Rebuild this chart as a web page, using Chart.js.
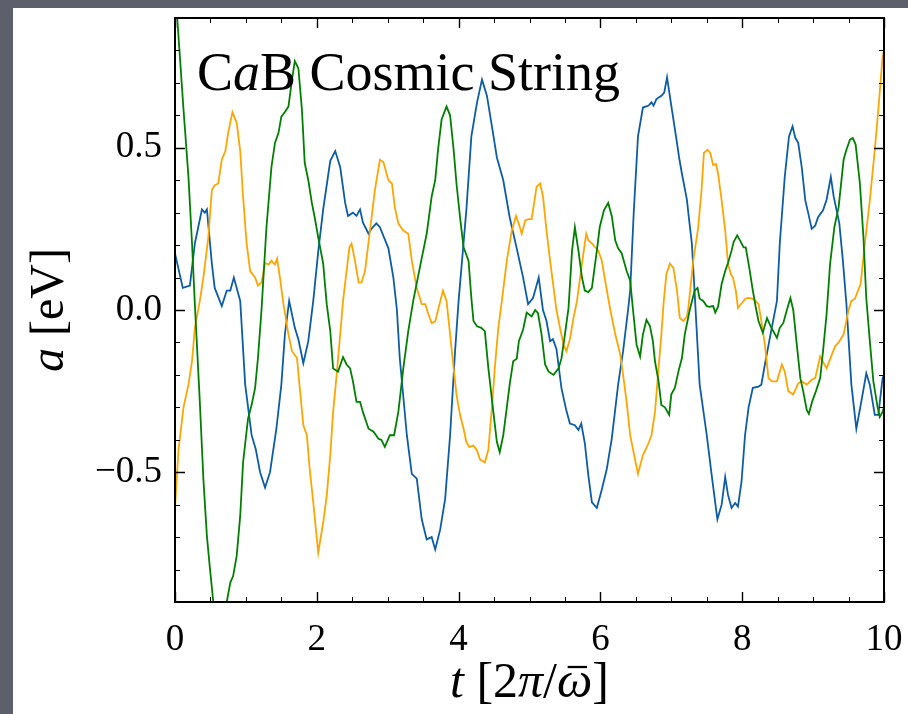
<!DOCTYPE html>
<html>
<head>
<meta charset="utf-8">
<script src="https://cdn.jsdelivr.net/npm/chart.js@4.4.1/dist/chart.umd.min.js"></script>
<style>
    html, body { margin: 0; padding: 0; }
    body { width: 908px; height: 714px; background: #5d606c; position: relative; overflow: hidden; }
    #paper { position: absolute; left: 13px; top: 8px; right: 0; bottom: 0; background: #fff; }
    #chart { position: absolute; left: 0; top: 0; }
</style>
</head>
<body>
<div id="paper"></div>
<canvas id="chart" width="908" height="714"></canvas>
<script>

// Time axis t [2π/ω̄] and field a [eV]
const blueT = [
    0, 0.11, 0.21, 0.28, 0.38, 0.42, 0.45, 0.52, 0.56, 0.66, 0.73, 0.78, 0.83, 0.92, 0.99,
    1.08, 1.14, 1.20, 1.27, 1.34, 1.43, 1.50, 1.55, 1.61, 1.69, 1.74, 1.81, 1.88, 1.95,
    2.02, 2.09, 2.19, 2.26, 2.33, 2.40, 2.44, 2.51, 2.56, 2.61, 2.65, 2.73, 2.77, 2.84, 2.89,
    3.01, 3.08, 3.13, 3.17, 3.27, 3.34, 3.41, 3.48, 3.55, 3.62, 3.67, 3.74, 3.81, 3.88, 3.95,
    4.00, 4.11, 4.18, 4.26, 4.33, 4.40, 4.47, 4.54, 4.63, 4.72, 4.82, 4.91, 4.98,
    5.05, 5.13, 5.19, 5.24, 5.29, 5.33, 5.38, 5.45, 5.52, 5.57, 5.64, 5.69, 5.73, 5.78, 5.83, 5.88, 5.95,
    6.02, 6.09, 6.16, 6.25, 6.32, 6.39, 6.42, 6.47, 6.53, 6.60, 6.68, 6.72, 6.75, 6.79, 6.86, 6.90, 6.94,
    7.00, 7.08, 7.11, 7.15, 7.22, 7.25, 7.29, 7.33, 7.40, 7.50, 7.57, 7.65, 7.71, 7.76, 7.80, 7.85, 7.90, 7.94, 7.99,
    8.04, 8.09, 8.15, 8.23, 8.27, 8.32, 8.39, 8.49, 8.53, 8.60, 8.66, 8.71, 8.75, 8.79, 8.84, 8.89, 8.93, 8.98,
    9.03, 9.07, 9.14, 9.19, 9.25, 9.29, 9.37, 9.42, 9.47, 9.54, 9.61, 9.69, 9.75, 9.80, 9.87, 9.92, 9.98, 10
];
const blueA = [
    0.174, 0.068, 0.075, 0.205, 0.31, 0.30, 0.31, 0.143, 0.068, 0.012, 0.06, 0.06, 0.10, 0.028, -0.23,
    -0.385, -0.43, -0.50, -0.547, -0.50, -0.366, -0.23, -0.075, 0.028, -0.055, -0.09, -0.164, -0.096, 0.028,
    0.18, 0.31, 0.46, 0.49, 0.44, 0.33, 0.29, 0.30, 0.29, 0.31, 0.27, 0.235, 0.25, 0.267, 0.255,
    0.19, 0.10, 0.0, -0.148, -0.386, -0.505, -0.52, -0.645, -0.707, -0.70, -0.738, -0.677, -0.583, -0.386, -0.127,
    0.028, 0.31, 0.535, 0.64, 0.71, 0.66, 0.566, 0.47, 0.40, 0.286, 0.19, 0.10, 0.018,
    0.037, 0.10, 0.0, -0.034, -0.096, -0.09, -0.12, -0.24, -0.31, -0.35, -0.355, -0.37, -0.35, -0.41, -0.51, -0.593, -0.61,
    -0.553, -0.49, -0.397, -0.23, -0.127, 0.0, 0.06, 0.30, 0.535, 0.624, 0.63, 0.64, 0.63, 0.65, 0.66, 0.67, 0.717,
    0.63, 0.515, 0.47, 0.42, 0.34, 0.28, 0.205, 0.05, -0.23, -0.386, -0.51, -0.645, -0.60, -0.515, -0.57, -0.61, -0.595, -0.606, -0.53,
    -0.386, -0.30, -0.24, -0.236, -0.23, -0.168, -0.086, 0.028, 0.205, 0.41, 0.535, 0.566, 0.53, 0.515, 0.44, 0.338, 0.30, 0.25,
    0.26, 0.286, 0.307, 0.34, 0.41, 0.35, 0.267, 0.152, 0.018, -0.23, -0.366, -0.27, -0.195, -0.23, -0.323, -0.323, -0.21, -0.20
];

const orangeT = [
    0, 0.05, 0.12, 0.19, 0.24, 0.28, 0.35, 0.40, 0.47, 0.52, 0.56, 0.61, 0.66, 0.71, 0.75, 0.81, 0.87, 0.92, 0.96,
    1.01, 1.06, 1.13, 1.17, 1.22, 1.27, 1.32, 1.36, 1.41, 1.44, 1.48, 1.53, 1.60, 1.65, 1.72, 1.76, 1.81, 1.86, 1.90, 1.95,
    2.02, 2.09, 2.14, 2.19, 2.23, 2.28, 2.33, 2.37, 2.42, 2.46, 2.49, 2.54, 2.59, 2.63, 2.68, 2.75, 2.82, 2.89, 2.94,
    3.01, 3.06, 3.10, 3.15, 3.22, 3.29, 3.34, 3.41, 3.48, 3.53, 3.57, 3.62, 3.67, 3.71, 3.78, 3.83, 3.88, 3.93, 3.97,
    4.02, 4.07, 4.11, 4.15, 4.21, 4.26, 4.30, 4.37, 4.42, 4.47, 4.51, 4.56, 4.61, 4.68, 4.75, 4.81, 4.85, 4.89, 4.94, 4.98,
    5.03, 5.10, 5.15, 5.19, 5.24, 5.29, 5.34, 5.38, 5.43, 5.48, 5.52, 5.57, 5.62, 5.67, 5.74, 5.80, 5.83, 5.88, 5.92, 5.97,
    6.02, 6.06, 6.11, 6.14, 6.21, 6.28, 6.32, 6.37, 6.42, 6.46, 6.53, 6.60, 6.68, 6.72, 6.77, 6.82, 6.86, 6.89, 6.93, 6.98,
    7.03, 7.08, 7.12, 7.17, 7.22, 7.24, 7.31, 7.38, 7.43, 7.46, 7.51, 7.55, 7.59, 7.63, 7.66, 7.71, 7.76, 7.80, 7.84, 7.87, 7.91, 7.94, 7.99,
    8.04, 8.08, 8.13, 8.18, 8.23, 8.27, 8.32, 8.37, 8.42, 8.49, 8.56, 8.60, 8.65, 8.72, 8.79, 8.84, 8.91, 8.98,
    9.03, 9.10, 9.14, 9.19, 9.26, 9.31, 9.36, 9.43, 9.50, 9.54, 9.59, 9.67, 9.73, 9.80, 9.87, 9.92, 9.98, 10
];
const orangeA = [
    -0.61, -0.43, -0.30, -0.23, -0.158, -0.055, 0.028, 0.10, 0.224, 0.37, 0.385, 0.39, 0.463, 0.49, 0.546, 0.61, 0.577, 0.49, 0.35,
    0.205, 0.12, 0.10, 0.075, 0.085, 0.145, 0.14, 0.152, 0.14, 0.158, 0.10, 0.018, -0.075, -0.127, -0.148, -0.24, -0.355, -0.386, -0.49, -0.593,
    -0.748, -0.655, -0.572, -0.447, -0.314, -0.20, -0.075, 0.028, 0.12, 0.193, 0.205, 0.15, 0.085, 0.085, 0.12, 0.245, 0.37, 0.463, 0.455,
    0.40, 0.39, 0.317, 0.267, 0.245, 0.235, 0.152, 0.068, 0.018, 0.018, -0.01, -0.04, -0.035, 0.0, 0.06, 0.028, -0.075, -0.18, -0.26,
    -0.323, -0.366, -0.407, -0.422, -0.418, -0.433, -0.46, -0.47, -0.43, -0.30, -0.18, -0.055, 0.028, 0.152, 0.245, 0.29, 0.265, 0.235, 0.276, 0.28,
    0.28, 0.38, 0.39, 0.35, 0.245, 0.152, 0.068, 0.0, -0.055, -0.107, -0.127, -0.09, -0.025, 0.028, 0.143, 0.235, 0.215, 0.205, 0.195, 0.183,
    0.152, 0.10, 0.037, 0.0, -0.075, -0.137, -0.20, -0.283, -0.386, -0.43, -0.505, -0.447, -0.41, -0.386, -0.314, -0.18, -0.075, 0.018, 0.11, 0.143,
    0.13, 0.06, -0.025, -0.034, -0.02, 0.006, 0.152, 0.255, 0.38, 0.484, 0.494, 0.484, 0.447, 0.45, 0.42, 0.338, 0.245, 0.143, 0.11, 0.10, 0.06, 0.006, 0.02,
    0.034, 0.037, 0.036, 0.03, 0.018, -0.034, -0.107, -0.21, -0.22, -0.22, -0.168, -0.19, -0.25, -0.26, -0.226, -0.22, -0.23, -0.215,
    -0.21, -0.143, -0.16, -0.18, -0.14, -0.112, -0.10, -0.075, 0.0, 0.028, 0.035, 0.08, 0.205, 0.338, 0.494, 0.618, 0.78, 0.80
];

const greenT = [
    0, 0.12, 0.19, 0.24, 0.28, 0.35, 0.40, 0.45, 0.49, 0.54, 0.63, 0.73, 0.78, 0.82, 0.87, 0.92, 0.96,
    1.03, 1.08, 1.13, 1.17, 1.22, 1.29, 1.36, 1.41, 1.46, 1.50, 1.55, 1.60, 1.65, 1.69, 1.74, 1.79, 1.83, 1.88, 1.93, 1.97,
    2.02, 2.09, 2.14, 2.19, 2.23, 2.30, 2.35, 2.37, 2.42, 2.47, 2.51, 2.56, 2.61, 2.65, 2.73, 2.80, 2.87, 2.91, 2.96,
    3.03, 3.09, 3.15, 3.22, 3.29, 3.36, 3.48, 3.55, 3.62, 3.67, 3.71, 3.76, 3.83, 3.88, 3.93, 3.97,
    4.02, 4.07, 4.14, 4.18, 4.21, 4.26, 4.32, 4.37, 4.42, 4.49, 4.54, 4.58, 4.63, 4.68, 4.72, 4.77, 4.82, 4.85, 4.91, 4.96,
    5.03, 5.08, 5.12, 5.17, 5.22, 5.27, 5.34, 5.41, 5.45, 5.50, 5.55, 5.60, 5.64, 5.69, 5.74, 5.78, 5.83, 5.88, 5.95, 5.99,
    6.05, 6.11, 6.16, 6.21, 6.25, 6.30, 6.37, 6.42, 6.46, 6.51, 6.56, 6.60, 6.65, 6.70, 6.74, 6.77, 6.82, 6.86, 6.91, 6.97,
    7.00, 7.05, 7.10, 7.15, 7.19, 7.26, 7.33, 7.37, 7.40, 7.45, 7.50, 7.54, 7.59, 7.62, 7.66, 7.71, 7.76, 7.80, 7.85, 7.88, 7.93, 7.98,
    8.02, 8.05, 8.10, 8.15, 8.19, 8.23, 8.29, 8.35, 8.40, 8.49, 8.53, 8.58, 8.63, 8.68, 8.72, 8.77, 8.82, 8.86, 8.91, 8.94, 8.99,
    9.04, 9.10, 9.14, 9.19, 9.24, 9.30, 9.36, 9.43, 9.47, 9.52, 9.56, 9.60, 9.66, 9.71, 9.75, 9.80, 9.85, 9.91, 9.94, 9.98, 10
];
const greenA = [
    1.0, 0.618, 0.41, 0.205, 0.018, -0.283, -0.52, -0.697, -0.79, -0.90, -1.02, -0.90, -0.84, -0.82, -0.758, -0.634, -0.47,
    -0.335, -0.293, -0.24, -0.148, 0.0, 0.255, 0.44, 0.515, 0.546, 0.596, 0.61, 0.627, 0.71, 0.767, 0.745, 0.618, 0.453, 0.40, 0.33, 0.286,
    0.224, 0.143, 0.018, -0.065, -0.18, -0.19, -0.158, -0.145, -0.168, -0.18, -0.22, -0.283, -0.283, -0.314, -0.366, -0.375, -0.397, -0.40, -0.422,
    -0.386, -0.386, -0.314, -0.18, -0.065, 0.028, 0.16, 0.235, 0.35, 0.40, 0.494, 0.587, 0.627, 0.60, 0.494, 0.39,
    0.286, 0.193, 0.152, 0.037, -0.034, -0.05, -0.055, -0.065, -0.18, -0.314, -0.407, -0.438, -0.386, -0.30, -0.23, -0.158, -0.15, -0.096, -0.06, -0.008,
    -0.02, 0.0, -0.01, -0.075, -0.168, -0.19, -0.20, -0.18, -0.15, -0.075, 0.006, 0.183, 0.255, 0.183, 0.10, 0.06, 0.055, 0.068, 0.183, 0.255,
    0.307, 0.33, 0.29, 0.214, 0.19, 0.175, 0.12, 0.09, 0.0, -0.107, -0.143, -0.075, -0.03, -0.05, -0.096, -0.158, -0.22, -0.293, -0.30, -0.323,
    -0.26, -0.24, -0.19, -0.148, -0.075, 0.0, 0.06, 0.068, 0.035, 0.028, 0.012, 0.01, 0.012, -0.008, 0.01, 0.08, 0.12, 0.145, 0.183, 0.21, 0.23, 0.21,
    0.193, 0.193, 0.13, 0.06, 0.01, -0.034, -0.07, -0.025, -0.05, -0.086, -0.055, -0.04, 0.0, 0.037, 0.0, -0.107, -0.21, -0.25, -0.308, -0.32, -0.28,
    -0.25, -0.21, -0.127, -0.013, 0.143, 0.255, 0.317, 0.463, 0.494, 0.525, 0.53, 0.51, 0.39, 0.224, 0.037, -0.096, -0.22, -0.30, -0.33, -0.314, -0.30
];

// Axes
const xRange = [ 0, 10 ];
const yRange = [ -0.9, 0.9 ];
const xTicks = [ 0, 2, 4, 6, 8, 10 ];
const yTicks = [ -0.5, 0.0, 0.5 ];
const xMinorStep = 0.5;
const yMinorStep = 0.1;

// Texts, as [ text, italic, overbar ] parts
const panelLabel = [ [ 'C', false ], [ 'a', true ], [ 'B Cosmic String', false ] ];
const xTitle = [ [ 't', true ], [ ' [2', false ], [ 'π', true ], [ '/', false ], [ 'ω', true, true ], [ ']', false ] ];
const yTitle = [ [ 'a', true ], [ ' [eV]', false ] ];

const FONT = '"Liberation Serif", "DejaVu Serif", serif';

function pairs ( t, a ) {
    return t.map( ( x, i ) => ( { x: x, y: a[ i ] } ) );
}

function partsFont ( italic, size ) {
    return `${ italic ? 'italic ' : '' }${size}px ${FONT}`;
}

function partsWidth ( ctx, parts, size ) {
    let w = 0;
    parts.forEach( ( [ s, it ] ) => { ctx.font = partsFont( it, size ); w += ctx.measureText( s ).width; } );
    return w;
}

function drawParts ( ctx, parts, x, y, size ) {
    let cx = x;
    parts.forEach( ( [ s, it, bar ] ) => {
        ctx.font = partsFont( it, size );
        ctx.fillText( s, cx, y );
        const w = ctx.measureText( s ).width;
        if ( bar ) {
            // \bar accent over the letter
            ctx.lineWidth = size / 22;
            ctx.beginPath();
            ctx.moveTo( cx + w * 0.3, y - size * 0.6 );
            ctx.lineTo( cx + w * 0.85, y - size * 0.6 );
            ctx.stroke();
        }
        cx += w;
    } );
}

// keep the plot frame where the reference has it: no label padding around it
function noPadding ( s ) {
    s.paddingTop = s.paddingBottom = s.paddingLeft = s.paddingRight = 0;
}

// Frame, inward ticks on all four sides, titles and the panel label
const framePlugin = {
    id: 'frame',
    afterDatasetsDraw ( chart ) {

        const { ctx, chartArea: ca, scales: { x, y } } = chart;

        ctx.save();
        ctx.strokeStyle = '#000';

        // minor ticks
        ctx.lineWidth = 1;
        ctx.beginPath();
        for ( let v = xRange[ 0 ]; v <= xRange[ 1 ] + 1e-9; v += xMinorStep ) {
            const px = Math.round( x.getPixelForValue( v ) ) + 0.5;
            ctx.moveTo( px, ca.bottom ); ctx.lineTo( px, ca.bottom - 5 );
            ctx.moveTo( px, ca.top ); ctx.lineTo( px, ca.top + 5 );
        }
        for ( let k = -9; k <= 9; ++k ) {
            const py = Math.round( y.getPixelForValue( k * yMinorStep ) ) + 0.5;
            ctx.moveTo( ca.left, py ); ctx.lineTo( ca.left + 5, py );
            ctx.moveTo( ca.right, py ); ctx.lineTo( ca.right - 5, py );
        }
        ctx.stroke();

        // major ticks
        ctx.lineWidth = 1.4;
        ctx.beginPath();
        xTicks.forEach( v => {
            const px = Math.round( x.getPixelForValue( v ) ) + 0.5;
            ctx.moveTo( px, ca.bottom ); ctx.lineTo( px, ca.bottom - 10 );
            ctx.moveTo( px, ca.top ); ctx.lineTo( px, ca.top + 10 );
        } );
        yTicks.forEach( v => {
            const py = Math.round( y.getPixelForValue( v ) ) + 0.5;
            ctx.moveTo( ca.left, py ); ctx.lineTo( ca.left + 10, py );
            ctx.moveTo( ca.right, py ); ctx.lineTo( ca.right - 10, py );
        } );
        ctx.stroke();

        // frame
        ctx.lineWidth = 2;
        ctx.strokeRect( ca.left, ca.top, ca.right - ca.left, ca.bottom - ca.top );

        ctx.fillStyle = '#000';
        ctx.textBaseline = 'alphabetic';
        ctx.textAlign = 'left';

        // panel label
        drawParts( ctx, panelLabel, ca.left + 22, ca.top + 72, 54 );

        // x title
        const xs = 50;
        const xw = partsWidth( ctx, xTitle, xs );
        drawParts( ctx, xTitle, ( ca.left + ca.right ) / 2 - xw / 2, ca.bottom + 95, xs );

        // y title, rotated
        const ys = 48;
        const yw = partsWidth( ctx, yTitle, ys );
        ctx.translate( 63, ( ca.top + ca.bottom ) / 2 );
        ctx.rotate( - Math.PI / 2 );
        drawParts( ctx, yTitle, - yw / 2, 0, ys );

        ctx.restore();

    }
};

function lineSet ( label, t, a, color ) {
    return {
        label: label,
        data: pairs( t, a ),
        borderColor: color,
        backgroundColor: color,
        borderWidth: 1.8,
        pointRadius: 0,
        tension: 0,
        fill: false,
        clip: 0
    };
}

new Chart( document.getElementById( 'chart' ), {
    type: 'line',
    data: {
        datasets: [
            lineSet( 'green', greenT, greenA, '#008000' ),
            lineSet( 'orange', orangeT, orangeA, '#ffa500' ),
            lineSet( 'blue', blueT, blueA, '#0c5da5' )
        ]
    },
    options: {
        responsive: false,
        animation: false,
        layout: { autoPadding: false, padding: { left: 0, top: 18, right: 24, bottom: 0 } },
        plugins: {
            legend: { display: false },
            tooltip: { enabled: false }
        },
        scales: {
            x: {
                type: 'linear',
                min: xRange[ 0 ],
                max: xRange[ 1 ],
                afterBuildTicks: s => { s.ticks = xTicks.map( v => ( { value: v } ) ); },
                afterFit: s => { s.height = 112; noPadding( s ); },
                grid: { display: false, drawTicks: false, tickLength: 0 },
                border: { display: false },
                ticks: {
                    color: '#000',
                    padding: 16,
                    maxRotation: 0,
                    font: { family: FONT, size: 37 },
                    callback: v => String( v )
                }
            },
            y: {
                type: 'linear',
                min: yRange[ 0 ],
                max: yRange[ 1 ],
                afterBuildTicks: s => { s.ticks = yTicks.map( v => ( { value: v } ) ); },
                afterFit: s => { s.width = 175; noPadding( s ); },
                grid: { display: false, drawTicks: false, tickLength: 0 },
                border: { display: false },
                ticks: {
                    color: '#000',
                    padding: 13,
                    font: { family: FONT, size: 37 },
                    callback: v => ( v < 0 ? '\u2212' : '' ) + Math.abs( v ).toFixed( 1 )
                }
            }
        }
    },
    plugins: [ framePlugin ]
} );

</script>
</body>
</html>
